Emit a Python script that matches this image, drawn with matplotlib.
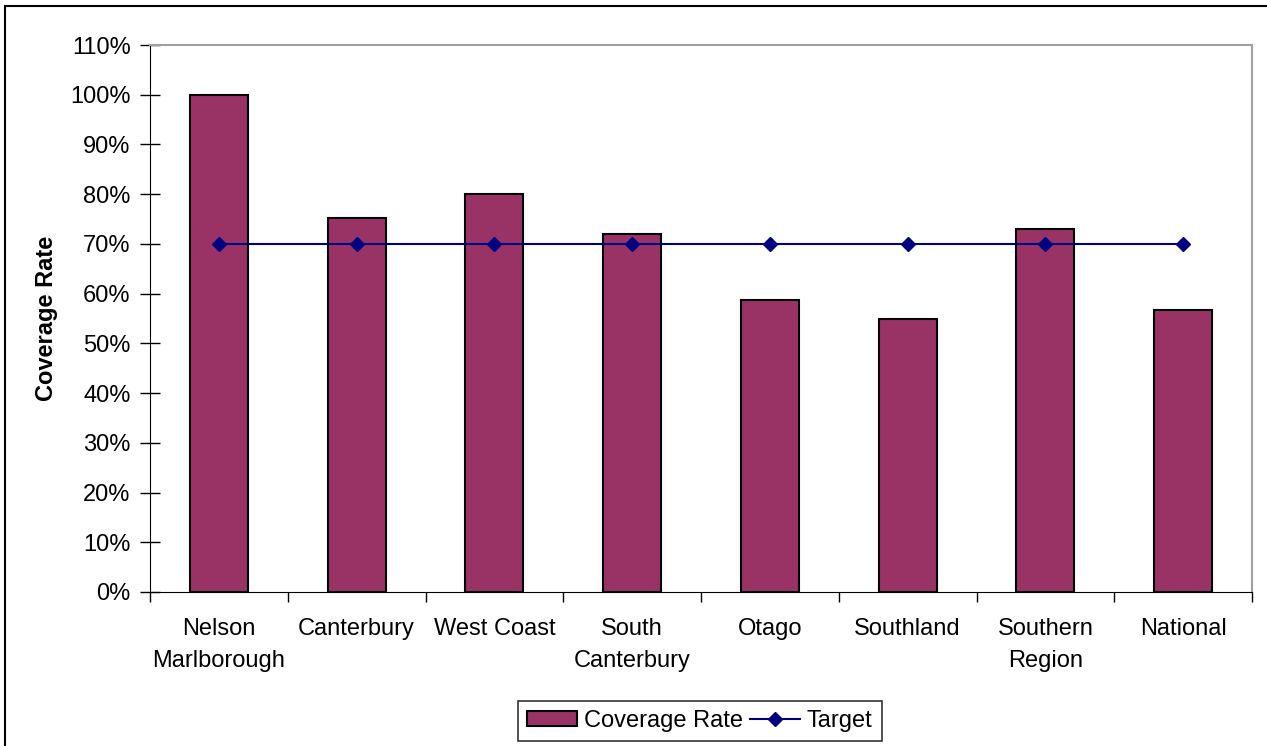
import matplotlib.pyplot as plt
from matplotlib.patches import Rectangle
from matplotlib.ticker import FuncFormatter, MultipleLocator

categories = ["Nelson\nMarlborough", "Canterbury", "West Coast", "South\nCanterbury",
              "Otago", "Southland", "Southern\nRegion", "National"]
coverage = [1.00, 0.752, 0.80, 0.72, 0.587, 0.549, 0.73, 0.568]
target = [0.70] * 8

plt.rcParams['font.family'] = ['Liberation Sans', 'DejaVu Sans']

fig = plt.figure(figsize=(12.67, 7.46), dpi=100)
ax = fig.add_axes([150 / 1267, 1 - 592 / 746, (1252 - 150) / 1267, (592 - 45) / 746])

x = range(len(categories))
bars = ax.bar(x, coverage, width=0.42, color='#993366', edgecolor='black', linewidth=1.5,
              label='Coverage Rate', zorder=2)
line, = ax.plot(x, target, color='#000080', marker='D', markersize=7.5, linewidth=1.5,
                label='Target', zorder=3)

ax.set_xlim(-0.5, len(categories) - 0.5)
ax.set_ylim(0, 1.10)
ax.yaxis.set_major_locator(MultipleLocator(0.10))
ax.yaxis.set_major_formatter(FuncFormatter(lambda v, p: f"{v * 100:.0f}%"))
ax.set_xticks([i + 0.5 for i in range(-1, len(categories))])
ax.set_xticklabels([])
ax.set_xticks(list(x), minor=True)
ax.set_xticklabels(categories, minor=True, fontsize=17, linespacing=1.55)
ax.tick_params(axis='x', which='major', direction='out', length=7, width=1)
ax.tick_params(axis='x', which='minor', length=0, pad=19)
ax.tick_params(axis='y', direction='inout', length=14, width=1, labelsize=17, pad=7)

ax.spines['left'].set_color('black')
ax.spines['bottom'].set_color('black')
ax.spines['top'].set_color('#a0a0a0')
ax.spines['right'].set_color('#a0a0a0')
ax.spines['top'].set_linewidth(1.5)
ax.spines['right'].set_linewidth(1.5)

ax.set_ylabel("Coverage Rate", fontsize=17, fontweight='bold', labelpad=9)

leg = fig.legend([bars, line], ['Coverage Rate', 'Target'], loc='center',
                 bbox_to_anchor=(700 / 1267, 1 - 721 / 746), ncol=2,
                 fontsize=17, frameon=True, fancybox=False, edgecolor='black',
                 handlelength=2.1, handleheight=0.6, handletextpad=0.3,
                 columnspacing=0.3, borderpad=0.4, borderaxespad=0)
leg.get_frame().set_linewidth(1.2)

fig.patches.append(Rectangle((5 / 1267, -0.01), 1.2, 1 - 6 / 746 + 0.01,
                             transform=fig.transFigure, fill=False,
                             edgecolor='black', linewidth=1.5))

fig.savefig("out.png", dpi=100)
